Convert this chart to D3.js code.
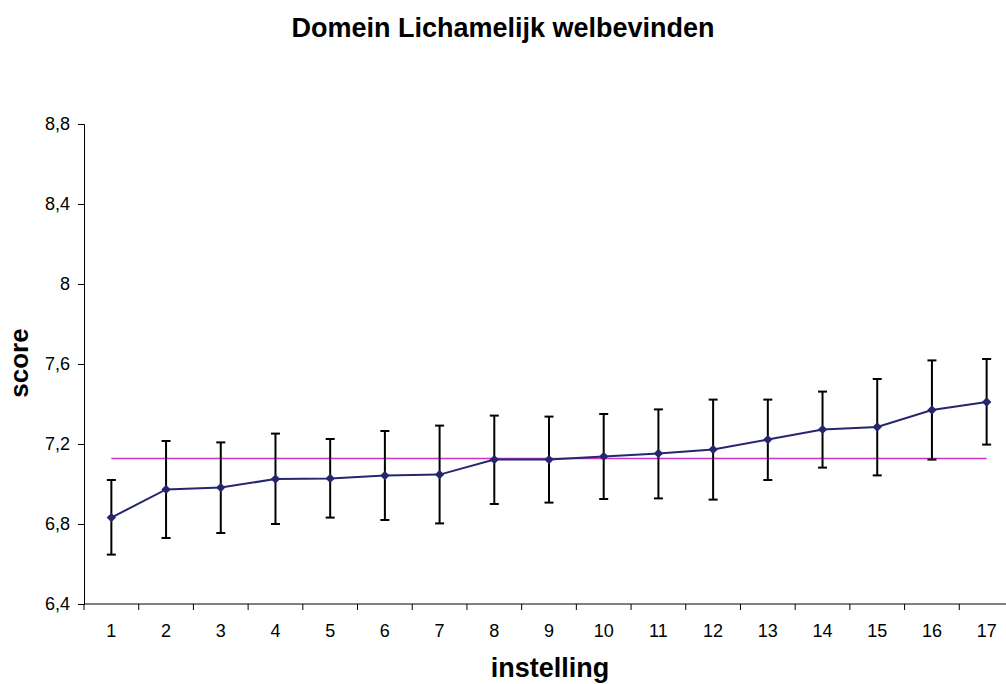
<!DOCTYPE html>
<html>
<head>
<meta charset="utf-8">
<script src="https://cdn.jsdelivr.net/npm/d3@7"></script>
<style>
  body { margin: 0; background: #fff; overflow: hidden; }
  text { font-family: Arial, "Liberation Sans", sans-serif; }
</style>
</head>
<body>
<script>
// Data
const instellingen = d3.range(1, 18);
const scores = [6.832, 6.973, 6.982, 7.025, 7.028, 7.042, 7.047, 7.122, 7.122, 7.138, 7.153, 7.173, 7.222, 7.273, 7.285, 7.370, 7.410];
const upper = [7.020, 7.215, 7.208, 7.252, 7.225, 7.265, 7.292, 7.342, 7.337, 7.350, 7.373, 7.422, 7.422, 7.462, 7.525, 7.618, 7.625];
const lower = [6.647, 6.730, 6.755, 6.800, 6.832, 6.820, 6.803, 6.900, 6.907, 6.925, 6.928, 6.922, 7.020, 7.082, 7.043, 7.122, 7.197];
const gemiddelde = 7.128;
const yTicks = [6.4, 6.8, 7.2, 7.6, 8.0, 8.4, 8.8];

const data = instellingen.map((d, i) => ({ inst: d, score: scores[i], hi: upper[i], lo: lower[i] }));

const W = 1006, H = 684;
const margin = { top: 124, left: 84, bottom: 80 };
const plotW = 930;
const plotH = 480;

const svg = d3.select("body")
    .append("svg")
    .attr("width", W)
    .attr("height", H);

const g = svg.append("g")
    .attr("transform", `translate(${margin.left},${margin.top})`);

// Scales
const x = d3.scaleBand()
    .domain(instellingen)
    .range([0, plotW]);
const y = d3.scaleLinear()
    .domain([6.4, 8.8])
    .range([plotH, 0]);
const cx = d => x(d) + x.bandwidth() / 2;

// Y axis
const yAxis = g.append("g")
    .call(d3.axisLeft(y).tickValues(yTicks).tickSize(6).tickPadding(8)
        .tickFormat(d => d3.format(".1f")(d).replace(".", ",").replace(",0", "")));
yAxis.selectAll("text").style("font-size", "18px").attr("fill", "#000");
yAxis.select(".domain").attr("stroke", "#000");

// X axis with ticks between categories
const xAxis = g.append("g")
    .attr("transform", `translate(0,${plotH})`);
xAxis.append("line")
    .attr("x1", 0).attr("x2", plotW)
    .attr("stroke", "#000");
xAxis.selectAll(".tick")
    .data(instellingen)
    .enter()
    .append("line")
    .attr("x1", d => x(d)).attr("x2", d => x(d))
    .attr("y1", 0).attr("y2", 6)
    .attr("stroke", "#000");
xAxis.selectAll(".lbl")
    .data(instellingen)
    .enter()
    .append("text")
    .attr("x", d => cx(d))
    .attr("y", 33)
    .attr("text-anchor", "middle")
    .style("font-size", "18px")
    .text(d => d);

// Average line
g.append("line")
    .attr("x1", cx(1)).attr("x2", cx(17))
    .attr("y1", y(gemiddelde)).attr("y2", y(gemiddelde))
    .attr("stroke", "#cc33cc")
    .attr("stroke-width", 1.5);

// Error bars
const eb = g.selectAll(".eb")
    .data(data)
    .enter()
    .append("g")
    .attr("stroke", "#000")
    .attr("stroke-width", 2);
eb.append("line")
    .attr("x1", d => cx(d.inst)).attr("x2", d => cx(d.inst))
    .attr("y1", d => y(d.hi)).attr("y2", d => y(d.lo));
eb.append("line")
    .attr("x1", d => cx(d.inst) - 4.5).attr("x2", d => cx(d.inst) + 4.5)
    .attr("y1", d => y(d.hi)).attr("y2", d => y(d.hi));
eb.append("line")
    .attr("x1", d => cx(d.inst) - 4.5).attr("x2", d => cx(d.inst) + 4.5)
    .attr("y1", d => y(d.lo)).attr("y2", d => y(d.lo));

// Score line
g.append("path")
    .datum(data)
    .attr("fill", "none")
    .attr("stroke", "#26266e")
    .attr("stroke-width", 2)
    .attr("d", d3.line().x(d => cx(d.inst)).y(d => y(d.score)));

// Diamond markers
g.selectAll(".pt")
    .data(data)
    .enter()
    .append("path")
    .attr("d", d3.symbol(d3.symbolSquare, 44)())
    .attr("transform", d => `translate(${cx(d.inst)},${y(d.score)}) rotate(45)`)
    .attr("fill", "#26266e");

// Titles
svg.append("text")
    .attr("x", 503)
    .attr("y", 37)
    .attr("text-anchor", "middle")
    .style("font-size", "27px")
    .style("font-weight", "bold")
    .text("Domein Lichamelijk welbevinden");

svg.append("text")
    .attr("x", 550)
    .attr("y", 677)
    .attr("text-anchor", "middle")
    .style("font-size", "27px")
    .style("font-weight", "bold")
    .text("instelling");

svg.append("text")
    .attr("transform", `translate(28,363) rotate(-90)`)
    .attr("text-anchor", "middle")
    .style("font-size", "26px")
    .style("font-weight", "bold")
    .text("score");
</script>
</body>
</html>
